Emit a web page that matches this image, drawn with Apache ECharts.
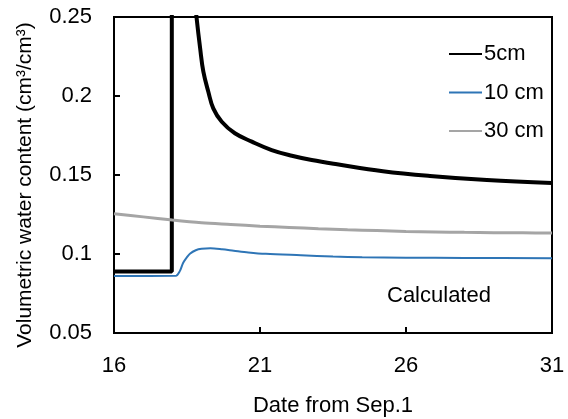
<!DOCTYPE html>
<html>
<head>
<meta charset="utf-8">
<script src="https://cdn.jsdelivr.net/npm/echarts@6/dist/echarts.min.js"></script>
<style>html,body{margin:0;padding:0;background:#fff}#c{width:568px;height:419px}</style>
</head>
<body>
<div id="c"></div>
<script>
// Data (day from Sep.1, volumetric water content)
var seriesNames = ['5cm', '10 cm', '30 cm'];
var xTicks = [16, 21, 26, 31];
var yTicks = [0.05, 0.1, 0.15, 0.2, 0.25];

// 5 cm: flat part and jump (goes above the plot top)
var d5cmJump = [[16, 0.089], [17.98, 0.089], [17.98, 0.32]];
// 5 cm: decay after the peak (comes back down from above the plot top)
var d5cmDecay = [
  [18.62, 0.31], [18.72, 0.27], [18.83, 0.2492], [18.95, 0.2302], [19.06, 0.2154],
  [19.23, 0.2027], [19.40, 0.1922], [19.69, 0.1837], [20.14, 0.1764], [20.72, 0.1711],
  [21.40, 0.1658], [22.09, 0.1622], [22.77, 0.1595], [23.64, 0.1568], [25.21, 0.1524],
  [26.82, 0.1494], [28.77, 0.1468], [31, 0.1449]
];
var d10cm = [
  [16, 0.0861], [18.12, 0.0862], [18.25, 0.089], [18.37, 0.0945], [18.5, 0.098],
  [18.6, 0.1002], [18.8, 0.1024], [19.0, 0.1033], [19.3, 0.1036], [19.7, 0.103],
  [20.1, 0.1021], [20.6, 0.101], [21.2, 0.1001], [22.4, 0.0992], [23.5, 0.0984],
  [24.5, 0.098], [26, 0.0977], [28, 0.0975], [31, 0.0973]
];
var d30cm = [
  [16, 0.1255], [17, 0.1235], [18, 0.1215], [19, 0.1198], [20, 0.1187],
  [21, 0.1176], [22, 0.1168], [23, 0.116], [24, 0.1153], [25, 0.1148],
  [26, 0.1143], [27, 0.114], [28, 0.1137], [29, 0.1135], [30, 0.1134], [31, 0.1133]
];

var FONT = '"Liberation Sans", Arial, sans-serif';
var FS = 22;
var chart = echarts.init(document.getElementById('c'), null, {renderer: 'canvas'});
chart.setOption({
  animation: false,
  backgroundColor: '#fff',
  grid: {left: 114, right: 16, top: 17, bottom: 86, show: true, borderColor: '#000', borderWidth: 2,
         containLabel: false, outerBoundsMode: 'none'},
  legend: {
    orient: 'vertical', left: 443, top: 38, itemGap: 16.5, itemWidth: 33, itemHeight: 22,
    itemStyle: {opacity: 0},
    textStyle: {fontFamily: FONT, fontSize: FS, color: '#000', padding: [0, 0, 0, -3]},
    data: seriesNames
  },
  xAxis: {
    type: 'value', min: xTicks[0], max: xTicks[xTicks.length - 1], interval: 5,
    name: 'Date from Sep.1', nameLocation: 'middle', nameGap: 62,
    nameTextStyle: {fontFamily: FONT, fontSize: FS, color: '#000'},
    axisLine: {lineStyle: {color: '#000', width: 2}},
    axisTick: {inside: true, length: 6, lineStyle: {color: '#000', width: 2}},
    axisLabel: {fontFamily: FONT, fontSize: FS, color: '#000', margin: 22},
    splitLine: {show: false}
  },
  yAxis: {
    type: 'value', min: yTicks[0], max: yTicks[yTicks.length - 1], interval: 0.05,
    name: 'Volumetric water content (cm\u00B3/cm\u00B3)', nameLocation: 'middle', nameGap: 78,
    nameTextStyle: {fontFamily: FONT, fontSize: 21, color: '#000', padding: [0, 20, 0, 0]},
    axisLine: {lineStyle: {color: '#000', width: 2}},
    axisTick: {inside: true, length: 6, lineStyle: {color: '#000', width: 2}},
    axisLabel: {fontFamily: FONT, fontSize: FS, color: '#000', margin: 22},
    splitLine: {show: false}
  },
  graphic: [{
    type: 'text', left: 387, top: 285,
    style: {text: 'Calculated', font: FS + 'px ' + FONT, fill: '#000'}
  }],
  series: [
    {name: seriesNames[0], type: 'line', data: d5cmJump, showSymbol: false, symbol: 'none', clip: true,
     lineStyle: {color: '#000', width: 4}, itemStyle: {color: '#000'}},
    {name: seriesNames[0], type: 'line', data: d5cmDecay, showSymbol: false, symbol: 'none',
     smooth: 0.4, clip: true,
     lineStyle: {color: '#000', width: 4}, itemStyle: {color: '#000'}},
    {name: seriesNames[1], type: 'line', data: d10cm, showSymbol: false, symbol: 'none', smooth: 0.3, clip: true,
     lineStyle: {color: '#2E75B6', width: 2}, itemStyle: {color: '#2E75B6'}},
    {name: seriesNames[2], type: 'line', data: d30cm, showSymbol: false, symbol: 'none', smooth: 0.3, clip: true,
     lineStyle: {color: '#A5A5A5', width: 3}, itemStyle: {color: '#A5A5A5'}}
  ]
});
</script>
</body>
</html>
